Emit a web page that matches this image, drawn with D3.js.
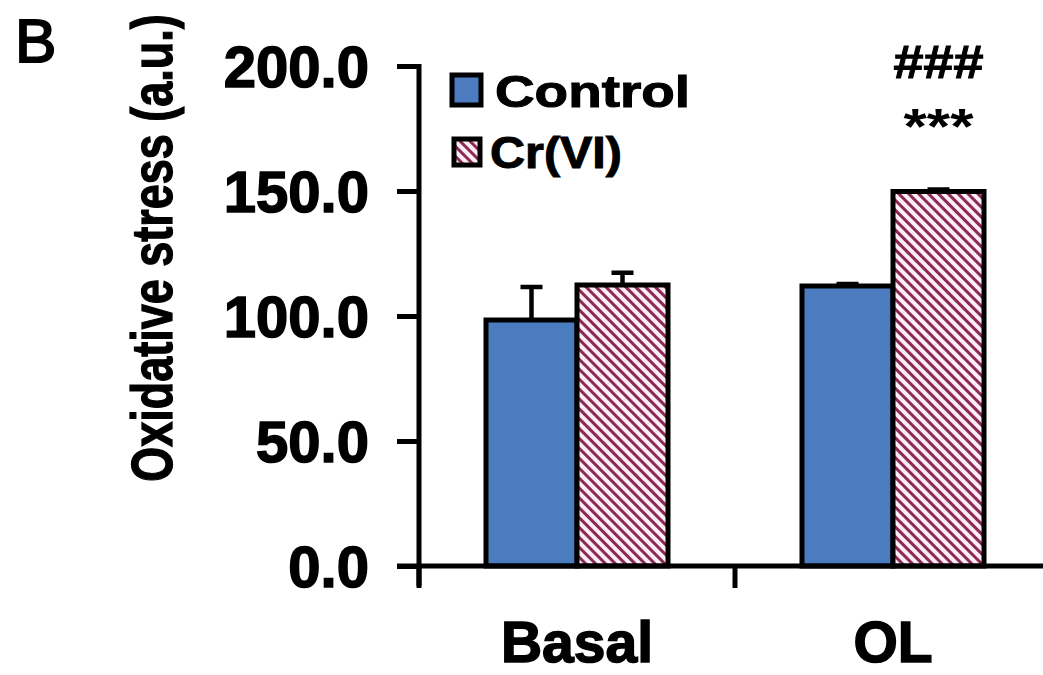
<!DOCTYPE html>
<html>
<head>
<meta charset="utf-8">
<script src="https://cdn.jsdelivr.net/npm/d3@7"></script>
<style>
  body { margin: 0; background: #fff; }
  text { font-family: "Liberation Sans", Arial, sans-serif; font-weight: bold; fill: #000; }
</style>
</head>
<body>
<svg id="chart" width="1043" height="675"></svg>
<script>
// data
var categories = ['Basal', 'OL']
var groups = ['Control', 'Cr(VI)']
var controlValues = [98.4, 112.0]
var controlErrors = [13.2, 0.8]
var crValues = [112.4, 149.8]
var crErrors = [4.9, 0.8]
var yTicks = [0, 50, 100, 150, 200]
var annotations = ['###', '***']

var svg = d3.select('#chart')

// hatch for Cr(VI)
var defs = svg.append('defs')
var pat = defs.append('pattern')
    .attr('id', 'hatch')
    .attr('patternUnits', 'userSpaceOnUse')
    .attr('width', 7).attr('height', 7)
    .attr('patternTransform', 'rotate(-45)')
pat.append('rect').attr('width', 7).attr('height', 7).attr('fill', '#fdeef4')
pat.append('rect').attr('width', 3).attr('height', 7).attr('fill', '#8a2a58')

var x0 = 419, x1 = 1051, yBase = 566, yTop = 66

var x = d3.scaleBand()
    .domain(categories)
    .range([x0, x1])
    .paddingInner(0.424)
    .paddingOuter(0.212)

var xSub = d3.scaleBand()
    .domain(groups)
    .range([0, x.bandwidth()])

var y = d3.scaleLinear().domain([0, 200]).range([yBase, yTop])

var rows = categories.map(function (c, i) {
    return [
        { cat: c, g: 'Control', v: controlValues[i], e: controlErrors[i] },
        { cat: c, g: 'Cr(VI)', v: crValues[i], e: crErrors[i] }
    ]
}).flat()

// error bars (drawn first so bar outline covers their foot)
var err = svg.append('g')
rows.forEach(function (d) {
    var cx = x(d.cat) + xSub(d.g) + xSub.bandwidth() / 2
    err.append('line')
        .attr('x1', cx).attr('x2', cx)
        .attr('y1', y(d.v)).attr('y2', y(d.v + d.e))
        .attr('stroke', '#000').attr('stroke-width', 4.5)
    err.append('line')
        .attr('x1', cx - 11).attr('x2', cx + 11)
        .attr('y1', y(d.v + d.e)).attr('y2', y(d.v + d.e))
        .attr('stroke', '#000').attr('stroke-width', 4.5)
})

// bars
svg.append('g').selectAll('rect')
    .data(rows)
    .enter().append('rect')
    .attr('x', function (d) { return x(d.cat) + xSub(d.g) })
    .attr('y', function (d) { return y(d.v) })
    .attr('width', xSub.bandwidth())
    .attr('height', function (d) { return yBase - y(d.v) })
    .attr('fill', function (d) { return d.g === 'Control' ? '#4a7cbf' : 'url(#hatch)' })
    .attr('stroke', '#000')
    .attr('stroke-width', 5)

// y axis
var yAxis = svg.append('g')
    .attr('transform', 'translate(' + x0 + ',0)')
    .call(d3.axisLeft(y).tickValues(yTicks).tickSize(22).tickPadding(28)
        .tickFormat(d3.format('.1f')))
yAxis.select('.domain').remove()
yAxis.append('line')
    .attr('x1', 0).attr('x2', 0)
    .attr('y1', y(200) - 2).attr('y2', yBase + 20)
    .attr('stroke', '#000').attr('stroke-width', 5)
yAxis.selectAll('.tick line').attr('stroke', '#000').attr('stroke-width', 5)
yAxis.selectAll('.tick text')
    .style('font-size', '58px')
    .style('font-family', '"Liberation Sans", Arial, sans-serif')
    .style('font-weight', 'bold')
    .attr('stroke', '#000').attr('stroke-width', 1.5)
    .attr('dy', '0.36em')

// x axis line + boundary ticks
var bounds = d3.scaleLinear().domain([0, categories.length]).range([x0, x1])
svg.append('line')
    .attr('x1', x0 - 22).attr('x2', x1)
    .attr('y1', yBase).attr('y2', yBase)
    .attr('stroke', '#000').attr('stroke-width', 5)
svg.append('g').selectAll('line')
    .data(d3.range(categories.length + 1))
    .enter().append('line')
    .attr('x1', function (d) { return bounds(d) }).attr('x2', function (d) { return bounds(d) })
    .attr('y1', yBase).attr('y2', yBase + 22)
    .attr('stroke', '#000').attr('stroke-width', 5)

// category labels
svg.append('g').selectAll('text')
    .data(categories)
    .enter().append('text')
    .attr('x', function (d) { return x(d) + x.bandwidth() / 2 })
    .attr('y', 662)
    .attr('text-anchor', 'middle')
    .style('font-size', '57px')
    .attr('stroke', '#000').attr('stroke-width', 1.5)
    .text(function (d) { return d })

// y axis title
svg.append('text')
    .attr('transform', 'translate(172,248) rotate(-90) scale(1,1.26)')
    .attr('text-anchor', 'middle')
    .style('font-size', '45px')
    .attr('stroke', '#000').attr('stroke-width', 1)
    .text('Oxidative stress (a.u.)')

// panel letter
svg.append('text')
    .attr('x', 15).attr('y', 62)
    .style('font-size', '62px')
    .style('font-weight', 'normal')
    .attr('stroke', '#000').attr('stroke-width', 2)
    .text('B')

// legend
var legend = svg.append('g')
legend.append('rect')
    .attr('x', 452).attr('y', 75).attr('width', 29).attr('height', 30)
    .attr('fill', '#4a7cbf').attr('stroke', '#000').attr('stroke-width', 5)
legend.append('rect')
    .attr('x', 454).attr('y', 139).attr('width', 26).attr('height', 26)
    .attr('fill', 'url(#hatch)').attr('stroke', '#000').attr('stroke-width', 5)
legend.append('text')
    .attr('x', 495).attr('y', 107)
    .style('font-size', '44px')
    .attr('stroke', '#000').attr('stroke-width', 1)
    .attr('textLength', 195).attr('lengthAdjust', 'spacingAndGlyphs')
    .text(groups[0])
legend.append('text')
    .attr('x', 490).attr('y', 168)
    .style('font-size', '44px')
    .attr('stroke', '#000').attr('stroke-width', 1)
    .attr('textLength', 132).attr('lengthAdjust', 'spacingAndGlyphs')
    .text(groups[1])

// significance marks above OL Cr(VI)
var cxOL = x('OL') + xSub('Cr(VI)') + xSub.bandwidth() / 2
svg.append('text')
    .attr('x', cxOL).attr('y', 78)
    .attr('text-anchor', 'middle')
    .style('font-size', '46px')
    .attr('textLength', 90).attr('lengthAdjust', 'spacingAndGlyphs')
    .attr('stroke', '#000').attr('stroke-width', 1)
    .text(annotations[0])
svg.append('text')
    .attr('x', cxOL).attr('y', 144)
    .attr('text-anchor', 'middle')
    .style('font-size', '50px')
    .attr('textLength', 70).attr('lengthAdjust', 'spacingAndGlyphs')
    .text(annotations[1])
</script>
</body>
</html>
